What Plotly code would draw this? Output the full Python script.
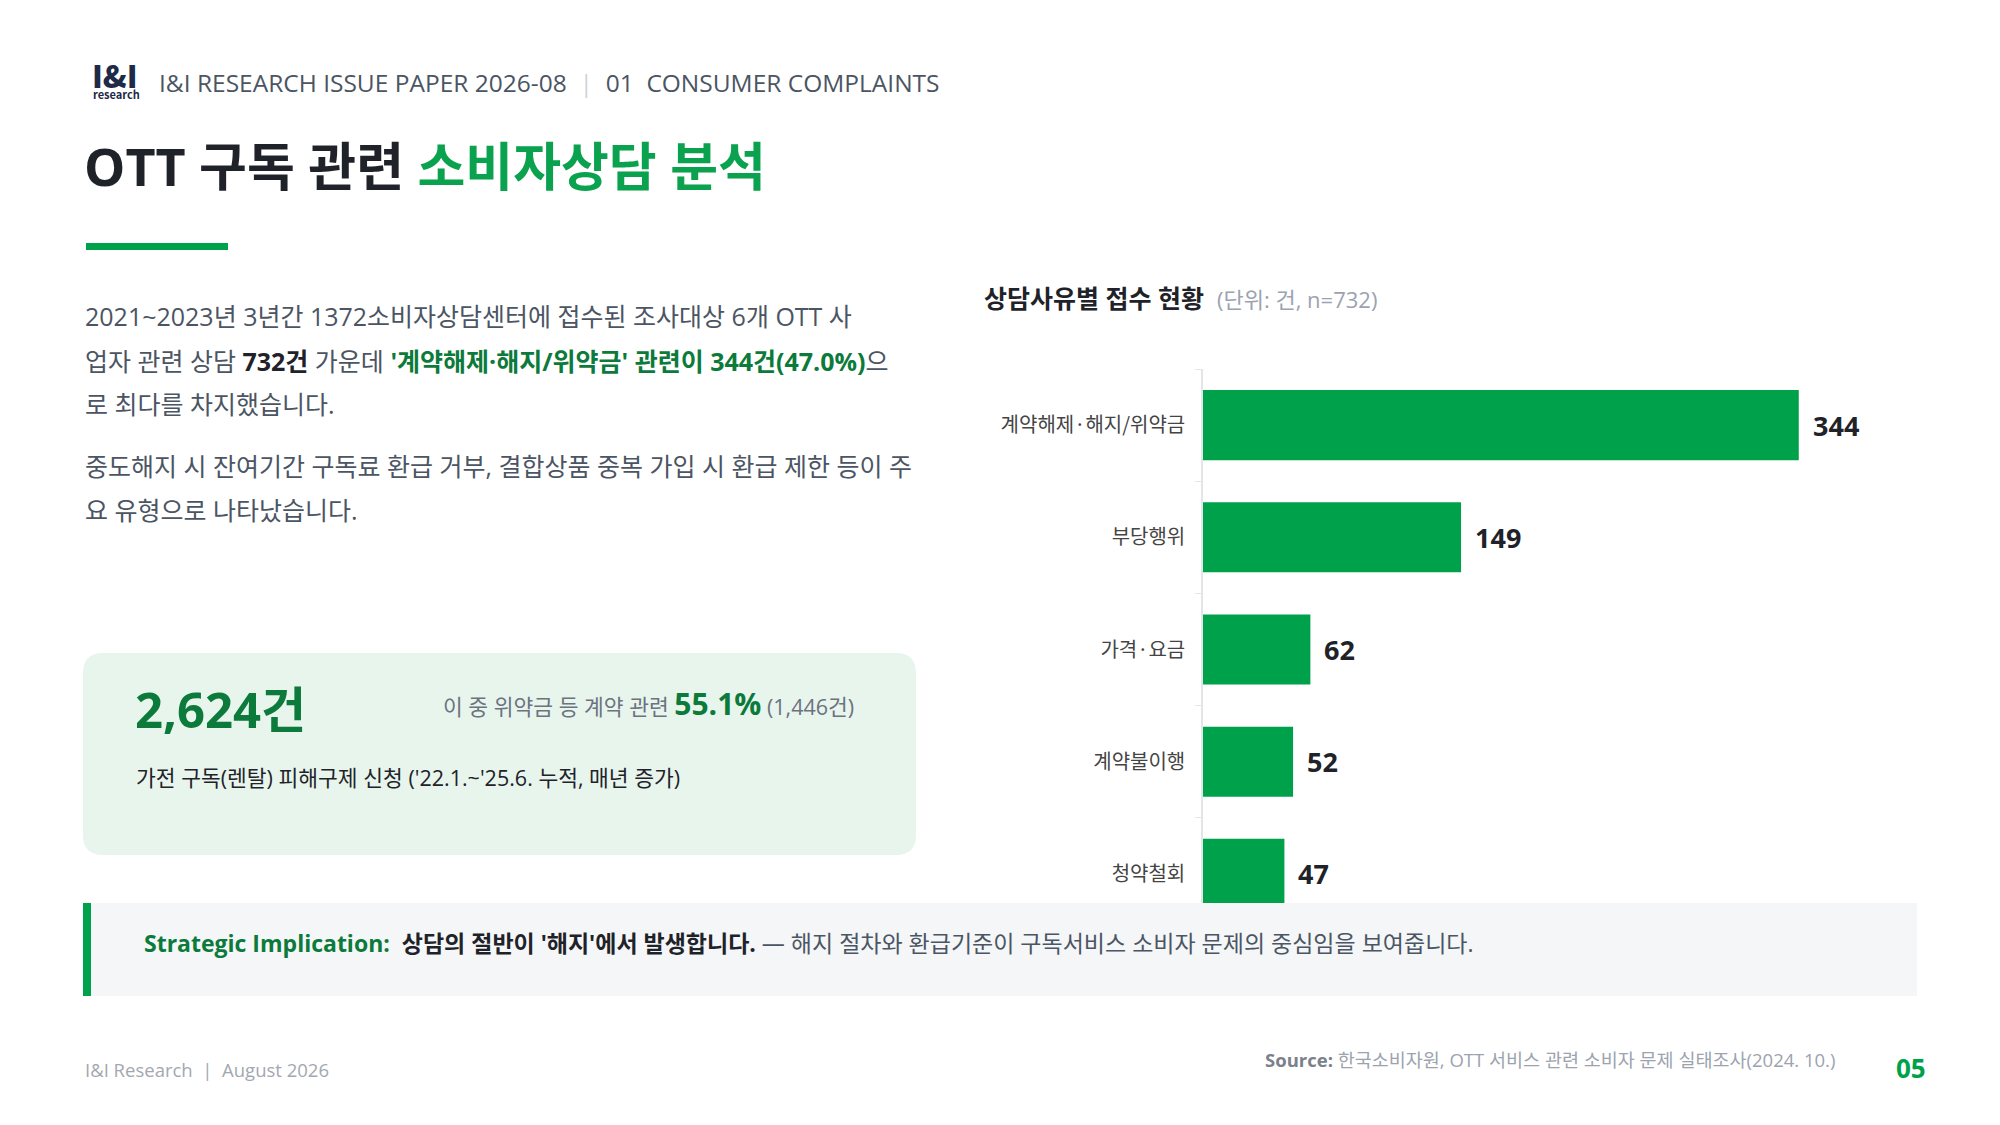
import plotly.graph_objects as go

# chart data
categories = ["계약해제·해지/위약금", "부당행위", "가격·요금", "계약불이행", "청약철회"]
counts = [344, 149, 62, 52, 47]

W, H = 2000, 1125
FONT = "Open Sans, Noto Sans CJK KR"
KR = "Noto Sans CJK KR"
GREEN = "#00a14b"
DGREEN = "#0b7a3a"
DARK = "#1f2329"
GREY = "#4b5563"


def X(px):
    return px / W


def Y(py):
    return 1 - py / H


fig = go.Figure()

fig.add_trace(go.Bar(
    y=categories, x=counts, orientation="h",
    marker=dict(color=GREEN, line=dict(width=0)),
    hoverinfo="skip",
))

annotations = []
shapes = []


def txt(x, y, text, size, color=GREY, anchor="left", family=FONT, weight=None):
    f = dict(family=family, size=size, color=color)
    if weight:
        f["weight"] = weight
    annotations.append(dict(
        x=X(x), y=Y(y), xref="paper", yref="paper", text=text, showarrow=False,
        xanchor=anchor, yanchor="middle", align=anchor, font=f,
    ))


# value labels next to bars
for c, v in zip(categories, counts):
    annotations.append(dict(
        x=v, y=c, xref="x", yref="y", text=f"<b>{v}</b>", showarrow=False,
        xanchor="left", yanchor="middle", xshift=12,
        font=dict(family=FONT, size=27, color=DARK),
    ))

# header
txt(90, 75, "I&amp;I", 31, "#1e2a48", family=KR, weight=900)
txt(91, 94, "<b>research</b>", 11, "#1e2a48", family=KR)
txt(157, 83, "I&amp;I RESEARCH ISSUE PAPER 2026-08  <span style='color:#cfd3d8'>|</span>  01  CONSUMER COMPLAINTS", 24.5, GREY)

# title
txt(82, 165, "<b>OTT 구독 관련 <span style='color:#0aa24e'>소비자상담 분석</span></b>", 52, DARK)
shapes.append(dict(type="rect", xref="paper", yref="paper", x0=X(86), x1=X(228), y0=Y(243), y1=Y(250),
                   fillcolor=GREEN, line=dict(width=0)))

# body text
body = [
    (316, "2021~2023년 3년간 1372소비자상담센터에 접수된 조사대상 6개 OTT 사"),
    (361, f"업자 관련 상담 <b><span style='color:{DARK}'>732건</span></b> 가운데 "
          f"<b><span style='color:{DGREEN}'>'계약해제·해지/위약금' 관련이 344건(47.0%)</span></b>으"),
    (404, "로 최다를 차지했습니다."),
    (466, "중도해지 시 잔여기간 구독료 환급 거부, 결합상품 중복 가입 시 환급 제한 등이 주"),
    (510, "요 유형으로 나타났습니다."),
]
for yy, t in body:
    txt(83, yy, t, 25, GREY)

# highlight box
x0, x1, y0, y1 = 83, 916, 653, 855
r = 20
rx, ry = r / W, r / H
path = (f"M {X(x0)+rx},{Y(y0)} L {X(x1)-rx},{Y(y0)} Q {X(x1)},{Y(y0)} {X(x1)},{Y(y0)-ry} "
        f"L {X(x1)},{Y(y1)+ry} Q {X(x1)},{Y(y1)} {X(x1)-rx},{Y(y1)} "
        f"L {X(x0)+rx},{Y(y1)} Q {X(x0)},{Y(y1)} {X(x0)},{Y(y1)+ry} "
        f"L {X(x0)},{Y(y0)-ry} Q {X(x0)},{Y(y0)} {X(x0)+rx},{Y(y0)} Z")
shapes.append(dict(type="path", xref="paper", yref="paper", path=path,
                   fillcolor="#e8f5ed", line=dict(width=0), layer="below"))
txt(133, 709, "<b>2,624건</b>", 49, DGREEN)
txt(856, 703, f"이 중 위약금 등 계약 관련 <b><span style='color:{DGREEN};font-size:30px'>55.1%</span></b> (1,446건)",
    21.5, "#6b7280", anchor="right")
txt(134, 777, "가전 구독(렌탈) 피해구제 신청 ('22.1.~'25.6. 누적, 매년 증가)", 21.5, DARK)

# chart title
txt(982, 298, f"<b>상담사유별 접수 현황</b>  <span style='color:#9ca3af;font-size:22px'>(단위: 건, n=732)</span>",
    25, DARK)

# strategic implication bar
shapes.append(dict(type="rect", xref="paper", yref="paper", x0=X(83), x1=X(1917), y0=Y(903), y1=Y(996),
                   fillcolor="#f4f6f8", line=dict(width=0), layer="above"))
shapes.append(dict(type="rect", xref="paper", yref="paper", x0=X(83), x1=X(91), y0=Y(903), y1=Y(996),
                   fillcolor=GREEN, line=dict(width=0), layer="above"))
txt(142, 943,
    f"<b><span style='color:{DGREEN}'>Strategic Implication:</span></b>  "
    f"<b><span style='color:{DARK}'>상담의 절반이 '해지'에서 발생합니다.</span></b> "
    "— 해지 절차와 환급기준이 구독서비스 소비자 문제의 중심임을 보여줍니다.",
    23, "#4b5563")

# footer
txt(83, 1069, "I&amp;I Research  |  August 2026", 18.5, "#a3a8b0")
txt(1837, 1059, "<b><span style='color:#7b818a'>Source:</span></b> 한국소비자원, OTT 서비스 관련 소비자 문제 실태조사(2024. 10.)",
    18.5, "#9ca3af", anchor="right")
txt(1928, 1068, "<b>05</b>", 26, GREEN, anchor="right")

fig.update_layout(
    width=W, height=H,
    margin=dict(l=0, r=0, t=0, b=0),
    paper_bgcolor="white", plot_bgcolor="white",
    showlegend=False,
    bargap=0.375,
    font=dict(family=FONT),
    annotations=annotations,
    shapes=shapes,
    xaxis=dict(domain=[X(1203), X(1920)], range=[0, 414], visible=False),
    yaxis=dict(
        domain=[Y(930), Y(369)], autorange="reversed",
        showline=True, linecolor="#e3e5e8", linewidth=1.5,
        ticks="outside", tickson="boundaries", ticklen=6, tickcolor="#e3e5e8",
        ticklabelstandoff=12,
        tickfont=dict(family=KR, size=20, color="#444"),
        showgrid=False, zeroline=False,
    ),
)

# page body margin off so the figure sits at the window origin
fig.write_html("out.html", config={"displayModeBar": False},
               post_script="document.body.style.margin='0';")
